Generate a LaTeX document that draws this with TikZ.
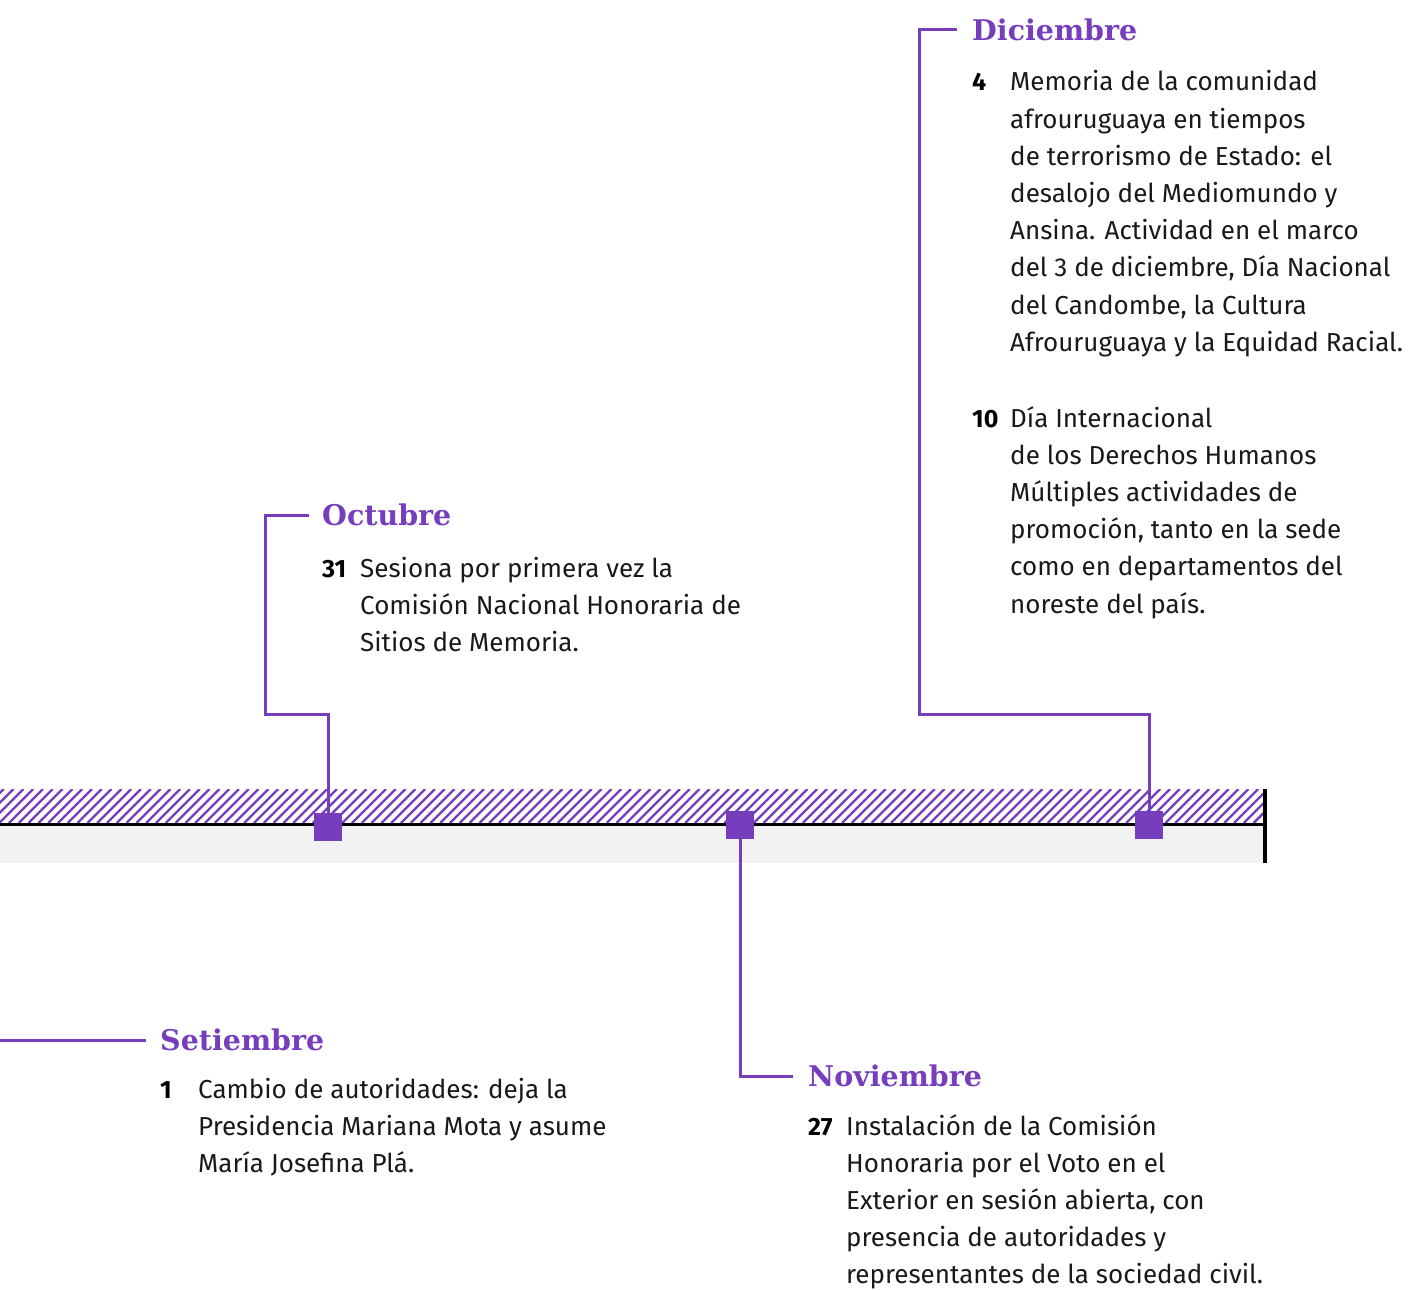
\documentclass[tikz,border=0pt]{standalone}
\usepackage{fontspec}
\setmainfont{Fira Sans}
\newfontfamily\mesfont{DejaVu Serif}
\definecolor{morado}{RGB}{118,62,189}
\definecolor{gris}{RGB}{242,242,242}
\newcommand{\bloque}[1]{\begin{tabular}[t]{@{}l@{}}#1\end{tabular}}

\begin{document}
\begin{tikzpicture}[x=1pt,y=-1pt,
  linea/.style={draw=morado,line width=3pt},
  marca/.style={rectangle,fill=morado,minimum size=28pt,inner sep=0pt},
  mes/.style={anchor=west,inner sep=0pt,text depth=0pt,text=morado,font=\mesfont\bfseries\fontsize{28.5}{30}\selectfont},
  dia/.style={anchor=base west,inner sep=0pt,font=\bfseries\fontsize{25}{37}\selectfont},
  texto/.style={anchor=base west,inner sep=0pt,text=black!90,font=\fontsize{26}{37.2}\selectfont}]
\useasboundingbox (0,0) rectangle (1411,1290);

% franja del tiempo
\fill[gris] (0,826) rectangle (1265,863);
\begin{scope}
\clip (0,789) rectangle (1265,823);
\foreach \x in {-40,-30.2,...,1300}
  \draw[morado,line width=2.3pt] (\x,823) -- ++(34,-34);
\end{scope}
\draw[line width=3.5pt] (0,824.5) -- (1265,824.5);
\draw[line width=4pt] (1265,789) -- (1265,863);

\node (sqOct) [marca] at (328,827) {};
\node (sqNov) [marca] at (740,825) {};
\node (sqDic) [marca] at (1149,825) {};

% Octubre
\node (octHead) [mes] at (322,515) {Octubre};
\node (oct31) [dia] at (322,577) {31};
\node (octTxt) [texto] at (360,577) {\bloque{Sesiona por primera vez la\\Comisión Nacional Honoraria de\\Sitios de Memoria.}};
\coordinate (octBend) at (265,714);
\draw [linea] (sqOct.north) |- (octBend) |- ([xshift=-13pt]octHead.west);

% Diciembre
\node (dicHead) [mes] at (972,30) {Diciembre};
\node (dic4) [dia] at (972,91) {4};
\node (dicTxt4) [texto] at (1010,91) {\bloque{Memoria de la comunidad\\afrouruguaya en tiempos\\de terrorismo de Estado: el\\desalojo del Mediomundo y\\Ansina. Actividad en el marco\\del 3 de diciembre, Día Nacional\\del Candombe, la Cultura\\Afrouruguaya y la Equidad Racial.}};
\node (dic10) [dia] at (972,427) {10};
\node (dicTxt10) [texto] at (1010,427) {\bloque{Día Internacional\\de los Derechos Humanos\\Múltiples actividades de\\promoción, tanto en la sede\\como en departamentos del\\noreste del país.}};
\coordinate (dicBend) at (919,714);
\draw [linea] (sqDic.north) |- (dicBend) |- ([xshift=-15pt]dicHead.west);

% Noviembre
\node (novHead) [mes] at (808,1076) {Noviembre};
\node (nov27) [dia] at (808,1135) {27};
\node (novTxt) [texto] at (846,1135) {\bloque{Instalación de la Comisión\\Honoraria por el Voto en el\\Exterior en sesión abierta, con\\presencia de autoridades y\\representantes de la sociedad civil.}};
\draw [linea] (sqNov.south) |- ([xshift=-15pt]novHead.west);

% Setiembre
\node (setHead) [mes] at (160,1040) {Setiembre};
\node (set1) [dia] at (160,1098) {1};
\node (setTxt) [texto] at (198,1098) {\bloque{Cambio de autoridades: deja la\\Presidencia Mariana Mota y asume\\María Josefina Plá.}};
\coordinate (setStart) at (0,1040);
\draw [linea] (setStart) -- ([xshift=-14pt]setHead.west);
\end{tikzpicture}
\end{document}
